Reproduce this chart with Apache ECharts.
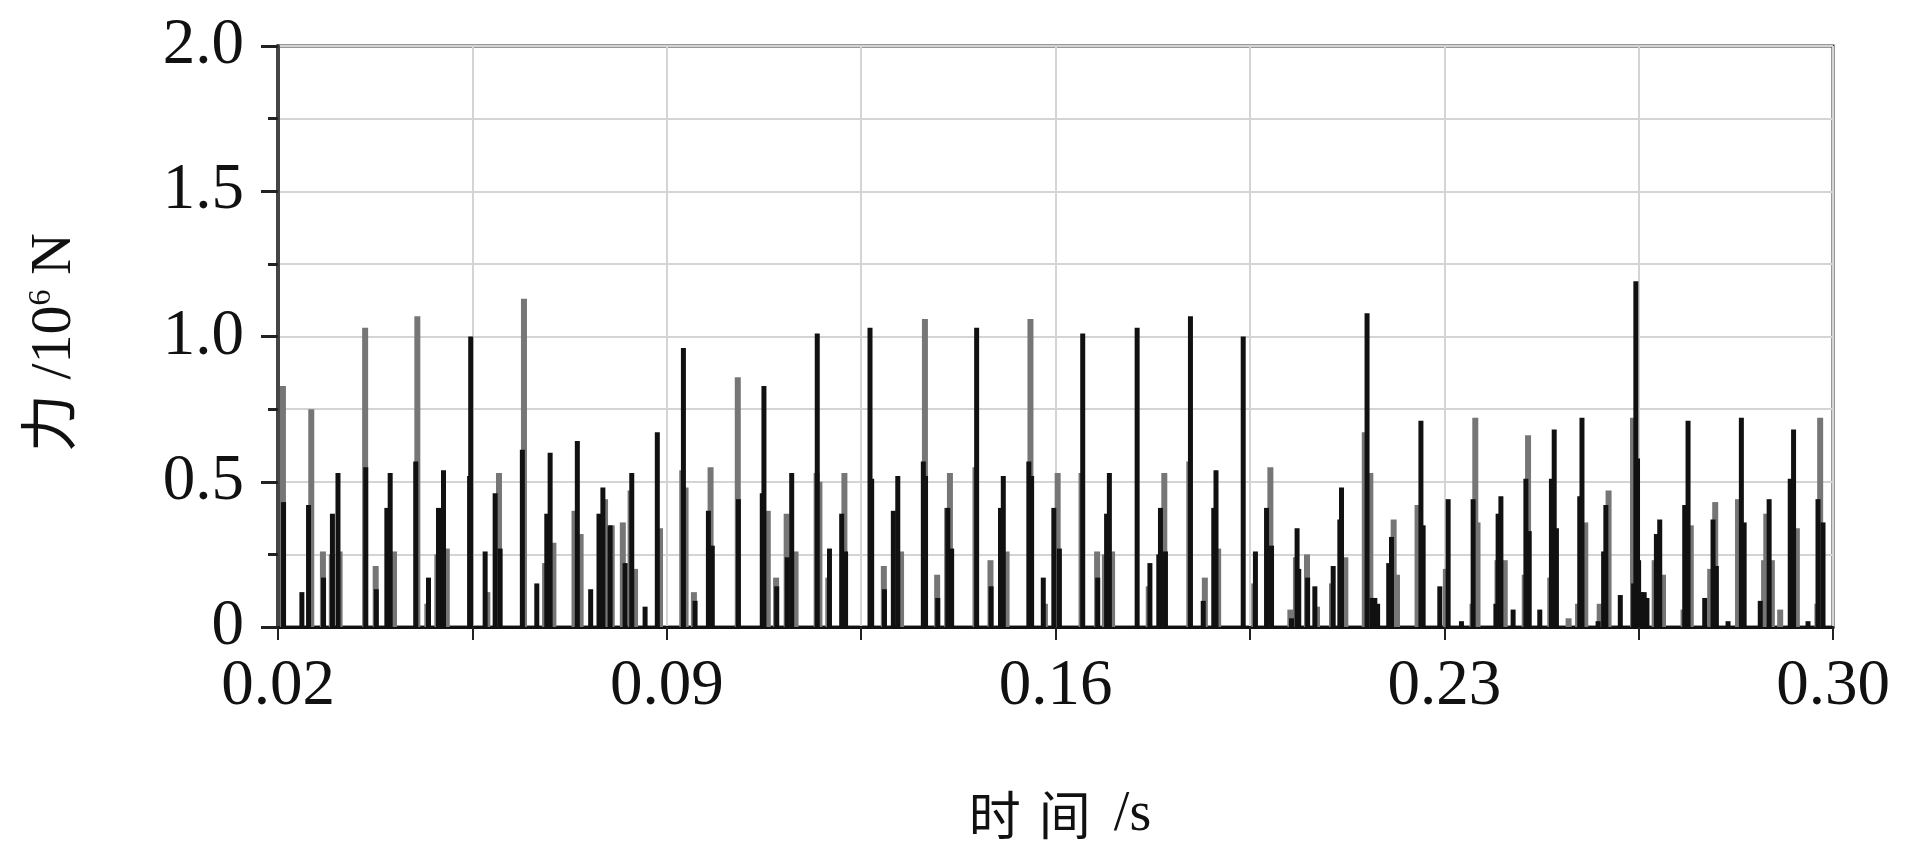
<!DOCTYPE html>
<html>
<head>
<meta charset="utf-8">
<script src="https://cdn.jsdelivr.net/npm/echarts@6.0.0/dist/echarts.min.js"></script>
<style>
html,body{margin:0;padding:0;background:#ffffff;}
#c{width:1910px;height:865px;}
</style>
</head>
<body>
<div id="c"></div>
<script>
// ---- data (time in s, force in 10^6 N) ----
const blackTimes = [
0.0210,0.0243,0.0255,0.0282,0.0298,0.0308,0.0358,0.0377,0.0396,0.0402,
0.0448,0.0471,0.0489,0.0498,0.0545,0.0547,0.0573,0.0591,0.0600,0.0640,
0.0666,0.0684,0.0690,0.0739,0.0763,0.0778,0.0785,0.0798,0.0825,0.0837,
0.0861,0.0883,0.0930,0.0951,0.0975,0.0982,0.1029,0.1072,0.1075,0.1098,
0.1117,0.1125,0.1171,0.1193,0.1215,0.1222,0.1266,0.1269,0.1292,0.1308,
0.1316,0.1362,0.1366,0.1388,0.1406,0.1413,0.1458,0.1484,0.1501,0.1506,
0.1552,0.1557,0.1578,0.1597,0.1607,0.1649,0.1676,0.1692,0.1697,0.1747,
0.1770,0.1786,0.1789,0.1798,0.1843,0.1866,0.1885,0.1889,0.1938,0.1960,
0.1980,0.1989,0.2025,0.2035,0.2038,0.2054,0.2067,0.2100,0.2112,0.2115,
0.2161,0.2170,0.2175,0.2180,0.2200,0.2205,0.2258,0.2262,0.2292,0.2307,
0.2331,0.2352,0.2393,0.2397,0.2402,0.2424,0.2447,0.2453,0.2472,0.2493,
0.2498,0.2502,0.2544,0.2548,0.2577,0.2587,0.2591,0.2617,0.2641,0.2645,
0.2648,0.2650,0.2655,0.2660,0.2665,0.2682,0.2688,0.2733,0.2739,0.2769,
0.2784,0.2790,0.2811,0.2835,0.2840,0.2869,0.2885,0.2923,0.2929,0.2955,
0.2973,0.2982
];
const blackForce = [
0.43,0.12,0.42,0.17,0.39,0.53,0.55,0.13,0.41,0.53,
0.57,0.17,0.41,0.54,0.52,1.00,0.26,0.46,0.27,0.61,
0.15,0.39,0.60,0.64,0.13,0.39,0.48,0.35,0.22,0.53,
0.07,0.67,0.96,0.09,0.40,0.28,0.44,0.46,0.83,0.14,
0.24,0.53,1.01,0.27,0.39,0.26,1.03,0.51,0.13,0.40,
0.52,0.57,0.52,0.10,0.41,0.27,1.03,0.14,0.41,0.52,
0.57,0.52,0.17,0.41,0.27,1.01,0.17,0.39,0.53,1.03,
0.22,0.25,0.41,0.26,1.07,0.09,0.41,0.54,1.00,0.26,
0.41,0.28,0.03,0.34,0.20,0.17,0.14,0.21,0.37,0.48,
1.08,0.10,0.10,0.08,0.22,0.31,0.71,0.35,0.14,0.44,
0.02,0.44,0.08,0.39,0.45,0.06,0.51,0.33,0.06,0.51,
0.68,0.34,0.45,0.72,0.02,0.26,0.42,0.11,0.15,1.19,
0.58,0.23,0.12,0.12,0.10,0.32,0.37,0.42,0.71,0.10,
0.37,0.21,0.02,0.72,0.36,0.09,0.44,0.51,0.68,0.02,
0.44,0.36
];
const grayTimes = [
0.0208,0.0259,0.0280,0.0296,0.0310,0.0356,0.0375,0.0408,0.0450,0.0468,
0.0486,0.0503,0.0576,0.0597,0.0642,0.0680,0.0695,0.0733,0.0744,0.0788,
0.0800,0.0820,0.0834,0.0842,0.0887,0.0927,0.0933,0.0948,0.0978,0.1027,
0.1081,0.1096,0.1115,0.1131,0.1169,0.1174,0.1190,0.1219,0.1290,0.1321,
0.1364,0.1386,0.1404,0.1409,0.1455,0.1482,0.1511,0.1554,0.1580,0.1603,
0.1646,0.1674,0.1688,0.1701,0.1767,0.1795,0.1840,0.1868,0.1892,0.1957,
0.1986,0.2022,0.2032,0.2052,0.2070,0.2097,0.2121,0.2156,0.2166,0.2208,
0.2214,0.2251,0.2302,0.2350,0.2355,0.2359,0.2395,0.2408,0.2444,0.2450,
0.2490,0.2523,0.2540,0.2553,0.2579,0.2595,0.2639,0.2678,0.2693,0.2730,
0.2743,0.2778,0.2787,0.2828,0.2875,0.2879,0.2889,0.2904,0.2934,0.2971,
0.2976
];
const grayForce = [
0.83,0.75,0.26,0.25,0.26,1.03,0.21,0.26,1.07,0.08,
0.25,0.27,0.12,0.53,1.13,0.22,0.29,0.40,0.32,0.44,
0.35,0.36,0.47,0.20,0.34,0.54,0.48,0.12,0.55,0.86,
0.40,0.17,0.39,0.26,0.53,0.50,0.17,0.53,0.21,0.26,
1.06,0.18,0.41,0.53,0.55,0.23,0.26,1.06,0.08,0.53,
0.53,0.26,0.25,0.26,0.14,0.53,0.57,0.17,0.27,0.15,
0.55,0.06,0.24,0.25,0.07,0.15,0.24,0.67,0.53,0.37,
0.18,0.42,0.20,0.08,0.72,0.36,0.23,0.23,0.18,0.66,
0.17,0.03,0.08,0.36,0.08,0.47,0.72,0.23,0.18,0.06,
0.35,0.20,0.43,0.44,0.23,0.39,0.23,0.06,0.34,0.08,
0.72
];
const xTickLabels = ['0.02','0.09','0.16','0.23','0.30'];
const yTickLabels = ['0','0.5','1.0','1.5','2.0'];
const timeStart = 0.02, timeEnd = 0.30;
const xStep = 0.035;   // grid step (labels every second step)
const yStep = 0.5;

const pairs = (ts, vs) => ts.map((t, i) => [t, vs[i]]);
const FONT = '"Liberation Serif", "Times New Roman", "Noto Sans CJK SC", serif';

const chart = echarts.init(document.getElementById('c'), null, {renderer: 'canvas'});
chart.setOption({
  animation: false,
  backgroundColor: '#ffffff',
  grid: {
    left: 278, right: 77, top: 46, bottom: 238,
    show: true, borderColor: '#333333', borderWidth: 3, backgroundColor: 'transparent'
  },
  xAxis: [
    { // data axis (actual time)
      type: 'value', min: timeStart, max: timeEnd, position: 'top', show: false
    },
    { // display axis (offset from start time)
      type: 'value', min: 0, max: timeEnd - timeStart, interval: xStep, position: 'bottom',
      axisLine: {show: true, onZero: false, lineStyle: {color: '#111111', width: 3}},
      axisTick: {show: true, inside: false, length: 13, lineStyle: {color: '#222222', width: 2}},
      axisLabel: {
        margin: 27, fontFamily: FONT, fontSize: 65, color: '#111111',
        formatter: function (v) {
          const k = Math.round(v / xStep);
          return (k % 2 === 0) ? xTickLabels[k / 2] : '';
        }
      },
      splitLine: {show: true, lineStyle: {color: '#d4d4d4', width: 2}},
      name: '{c|时}{c|间} /s', nameLocation: 'middle', nameGap: 160,
      nameTextStyle: {
        fontFamily: FONT, fontSize: 56, color: '#111111',
        rich: {c: {fontFamily: '"Noto Sans CJK SC", sans-serif', fontSize: 52, color: '#111111', padding: [0, 9, 0, 9]}}
      }
    }
  ],
  yAxis: {
    type: 'value', min: 0, max: 2, interval: yStep,
    axisLine: {show: true, lineStyle: {color: '#454545', width: 4}},
    axisTick: {show: true, inside: false, length: 17, lineStyle: {color: '#222222', width: 3}},
    minorTick: {show: true, splitNumber: 2, length: 10, lineStyle: {color: '#222222', width: 3}},
    splitLine: {show: true, lineStyle: {color: '#d4d4d4', width: 2}},
    minorSplitLine: {show: true, lineStyle: {color: '#d4d4d4', width: 2}},
    axisLabel: {
      margin: 34, fontFamily: FONT, fontSize: 65, color: '#111111',
      formatter: function (v) { return yTickLabels[Math.round(v / yStep)]; }
    },
    name: '力 /10{sup|6} N', nameLocation: 'middle', nameGap: 194, nameRotate: 90,
    nameTextStyle: {
      fontFamily: FONT, fontSize: 58, color: '#111111', padding: [0, 12, 0, 0],
      rich: {sup: {fontFamily: FONT, fontSize: 32, color: '#111111', verticalAlign: 'top', lineHeight: 58}}
    }
  },
  series: [
    {
      name: 'gray', type: 'bar', xAxisIndex: 0, yAxisIndex: 0,
      data: pairs(grayTimes, grayForce), barWidth: 6, barGap: '-100%',
      itemStyle: {color: '#767676'}, silent: true
    },
    {
      name: 'black', type: 'bar', xAxisIndex: 0, yAxisIndex: 0,
      data: pairs(blackTimes, blackForce), barWidth: 5, barGap: '-100%',
      itemStyle: {color: '#111111'}, silent: true
    }
  ]
});
</script>
</body>
</html>
